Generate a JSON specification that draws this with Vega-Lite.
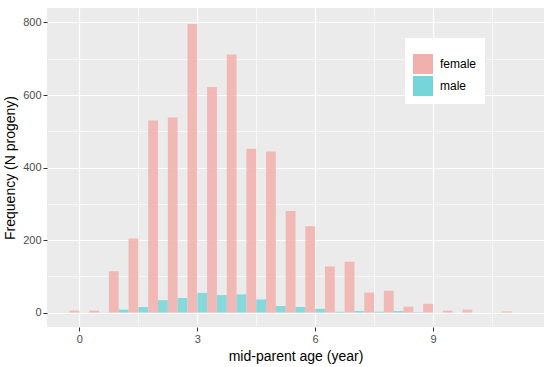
{
  "$schema": "https://vega.github.io/schema/vega-lite/v6.json",
  "autosize": "none",
  "width": 497,
  "height": 319,
  "padding": {"left": 47, "top": 8, "right": 6, "bottom": 40},
  "background": "white",
  "config": {
    "view": {"fill": "#EBEBEB", "stroke": null},
    "font": "Liberation Sans"
  },
  "data": {
    "values": [
      {"age": 0, "sex": "female", "n": 5}, {"age": 0, "sex": "male", "n": 0},
      {"age": 0.5, "sex": "female", "n": 5}, {"age": 0.5, "sex": "male", "n": 0},
      {"age": 1, "sex": "female", "n": 114}, {"age": 1, "sex": "male", "n": 8},
      {"age": 1.5, "sex": "female", "n": 204}, {"age": 1.5, "sex": "male", "n": 15},
      {"age": 2, "sex": "female", "n": 530}, {"age": 2, "sex": "male", "n": 34},
      {"age": 2.5, "sex": "female", "n": 538}, {"age": 2.5, "sex": "male", "n": 40},
      {"age": 3, "sex": "female", "n": 796}, {"age": 3, "sex": "male", "n": 54},
      {"age": 3.5, "sex": "female", "n": 622}, {"age": 3.5, "sex": "male", "n": 48},
      {"age": 4, "sex": "female", "n": 712}, {"age": 4, "sex": "male", "n": 50},
      {"age": 4.5, "sex": "female", "n": 452}, {"age": 4.5, "sex": "male", "n": 36},
      {"age": 5, "sex": "female", "n": 444}, {"age": 5, "sex": "male", "n": 18},
      {"age": 5.5, "sex": "female", "n": 280}, {"age": 5.5, "sex": "male", "n": 15},
      {"age": 6, "sex": "female", "n": 238}, {"age": 6, "sex": "male", "n": 10},
      {"age": 6.5, "sex": "female", "n": 127}, {"age": 6.5, "sex": "male", "n": 2},
      {"age": 7, "sex": "female", "n": 140}, {"age": 7, "sex": "male", "n": 4},
      {"age": 7.5, "sex": "female", "n": 55}, {"age": 7.5, "sex": "male", "n": 2},
      {"age": 8, "sex": "female", "n": 60}, {"age": 8, "sex": "male", "n": 4},
      {"age": 8.5, "sex": "female", "n": 16}, {"age": 8.5, "sex": "male", "n": 1},
      {"age": 9, "sex": "female", "n": 24}, {"age": 9, "sex": "male", "n": 0},
      {"age": 9.5, "sex": "female", "n": 5}, {"age": 9.5, "sex": "male", "n": 0},
      {"age": 10, "sex": "female", "n": 8}, {"age": 10, "sex": "male", "n": 0},
      {"age": 11, "sex": "female", "n": 3}, {"age": 11, "sex": "male", "n": 0}
    ]
  },
  "transform": [
    {"calculate": "datum.sex == 'male' ? datum.age : datum.age - 0.25", "as": "x0"},
    {"calculate": "datum.x0 + 0.25", "as": "x1"}
  ],
  "resolve": {"axis": {"x": "independent", "y": "independent"}},
  "layer": [
    {
      "mark": {"type": "rule", "opacity": 0},
      "encoding": {
        "x": {
          "field": "x0", "type": "quantitative",
          "scale": {"domain": [-0.825, 11.825], "nice": false, "zero": false},
          "axis": {
            "orient": "top",
            "title": null, "values": [1.5, 4.5, 7.5, 10.5],
            "labels": false, "ticks": false, "domain": false,
            "grid": true, "gridColor": "white", "gridWidth": 0.6
          }
        },
        "y": {
          "field": "n", "type": "quantitative",
          "scale": {"domain": [-40, 840], "nice": false, "zero": false},
          "axis": {
            "orient": "right",
            "title": null, "values": [100, 300, 500, 700],
            "labels": false, "ticks": false, "domain": false,
            "grid": true, "gridColor": "white", "gridWidth": 0.6
          }
        }
      }
    },
    {
      "mark": {"type": "bar", "opacity": 0.85},
      "encoding": {
        "x": {
          "field": "x0", "type": "quantitative",
          "scale": {"domain": [-0.825, 11.825], "nice": false, "zero": false},
          "axis": {
            "orient": "bottom",
            "title": "mid-parent age (year)",
            "values": [0, 3, 6, 9],
            "format": "d",
            "grid": true, "gridColor": "white", "gridWidth": 1.2,
            "domain": false,
            "tickColor": "#333333", "tickSize": 4,
            "labelColor": "#4D4D4D", "labelFontSize": 11, "labelPadding": 2,
            "titleColor": "black", "titleFontSize": 14, "titleFontWeight": "normal", "titlePadding": 5
          }
        },
        "x2": {"field": "x1"},
        "y": {
          "field": "n", "type": "quantitative",
          "scale": {"domain": [-40, 840], "nice": false, "zero": false},
          "axis": {
            "orient": "left",
            "title": "Frequency (N progeny)",
            "values": [0, 200, 400, 600, 800],
            "grid": true, "gridColor": "white", "gridWidth": 1.2,
            "domain": false,
            "tickColor": "#333333", "tickSize": 4,
            "labelColor": "#4D4D4D", "labelFontSize": 11, "labelPadding": 2,
            "titleColor": "black", "titleFontSize": 14, "titleFontWeight": "normal", "titlePadding": 5
          }
        },
        "y2": {"datum": 0},
        "color": {
          "field": "sex", "type": "nominal",
          "scale": {"domain": ["female", "male"], "range": ["#F2B0AC", "#76D5D8"]},
          "legend": {
            "title": " ", "titleFontSize": 6, "titlePadding": 2,
            "orient": "none", "legendX": 358, "legendY": 30,
            "fillColor": "white",
            "padding": 8,
            "symbolType": "square", "symbolSize": 400, "symbolStrokeWidth": 0,
            "symbolOpacity": 1,
            "labelFontSize": 12, "labelColor": "black", "labelOffset": 7,
            "rowPadding": 2
          }
        }
      }
    }
  ]
}
